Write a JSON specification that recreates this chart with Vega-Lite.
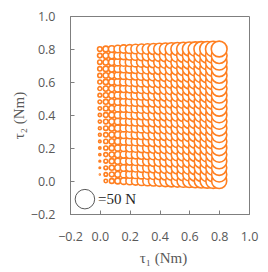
{
"$schema":"https://vega.github.io/schema/vega-lite/v6.json",
"width":179,"height":198,"autosize":"none",
"padding":{"left":70,"top":16,"right":19,"bottom":58},
"background":"white",
"config":{"view":{"stroke":"#7f7f7f","strokeWidth":1}},
"datasets":{"grid":[
{"t1":0,"t2":0,"f":0},{"t1":0,"t2":0.04,"f":0.1},{"t1":0,"t2":0.08,"f":0.3},{"t1":0,"t2":0.12,"f":0.4},{"t1":0,"t2":0.16,"f":0.6},{"t1":0,"t2":0.2,"f":0.7},{"t1":0,"t2":0.24,"f":0.8},{"t1":0,"t2":0.28,"f":1},{"t1":0,"t2":0.32,"f":1.1},{"t1":0,"t2":0.36,"f":1.3},{"t1":0,"t2":0.4,"f":1.4},{"t1":0,"t2":0.44,"f":1.5},{"t1":0,"t2":0.48,"f":1.7},{"t1":0,"t2":0.52,"f":1.8},{"t1":0,"t2":0.56,"f":2},{"t1":0,"t2":0.6,"f":2.1},{"t1":0,"t2":0.64,"f":2.2},{"t1":0,"t2":0.68,"f":2.4},{"t1":0,"t2":0.72,"f":2.5},{"t1":0,"t2":0.76,"f":2.7},{"t1":0,"t2":0.8,"f":2.8},
{"t1":0.04,"t2":0,"f":1.5},{"t1":0.04,"t2":0.04,"f":1.6},{"t1":0.04,"t2":0.08,"f":1.8},{"t1":0.04,"t2":0.12,"f":1.9},{"t1":0.04,"t2":0.16,"f":2.1},{"t1":0.04,"t2":0.2,"f":2.2},{"t1":0.04,"t2":0.24,"f":2.3},{"t1":0.04,"t2":0.28,"f":2.5},{"t1":0.04,"t2":0.32,"f":2.6},{"t1":0.04,"t2":0.36,"f":2.8},{"t1":0.04,"t2":0.4,"f":2.9},{"t1":0.04,"t2":0.44,"f":3},{"t1":0.04,"t2":0.48,"f":3.2},{"t1":0.04,"t2":0.52,"f":3.3},{"t1":0.04,"t2":0.56,"f":3.5},{"t1":0.04,"t2":0.6,"f":3.6},{"t1":0.04,"t2":0.64,"f":3.7},{"t1":0.04,"t2":0.68,"f":3.9},{"t1":0.04,"t2":0.72,"f":4},{"t1":0.04,"t2":0.76,"f":4.2},{"t1":0.04,"t2":0.8,"f":4.3},
{"t1":0.08,"t2":0,"f":3},{"t1":0.08,"t2":0.04,"f":3.1},{"t1":0.08,"t2":0.08,"f":3.3},{"t1":0.08,"t2":0.12,"f":3.4},{"t1":0.08,"t2":0.16,"f":3.6},{"t1":0.08,"t2":0.2,"f":3.7},{"t1":0.08,"t2":0.24,"f":3.8},{"t1":0.08,"t2":0.28,"f":4},{"t1":0.08,"t2":0.32,"f":4.1},{"t1":0.08,"t2":0.36,"f":4.3},{"t1":0.08,"t2":0.4,"f":4.4},{"t1":0.08,"t2":0.44,"f":4.5},{"t1":0.08,"t2":0.48,"f":4.7},{"t1":0.08,"t2":0.52,"f":4.8},{"t1":0.08,"t2":0.56,"f":5},{"t1":0.08,"t2":0.6,"f":5.1},{"t1":0.08,"t2":0.64,"f":5.2},{"t1":0.08,"t2":0.68,"f":5.4},{"t1":0.08,"t2":0.72,"f":5.5},{"t1":0.08,"t2":0.76,"f":5.7},{"t1":0.08,"t2":0.8,"f":5.8},
{"t1":0.12,"t2":0,"f":4.5},{"t1":0.12,"t2":0.04,"f":4.6},{"t1":0.12,"t2":0.08,"f":4.8},{"t1":0.12,"t2":0.12,"f":4.9},{"t1":0.12,"t2":0.16,"f":5.1},{"t1":0.12,"t2":0.2,"f":5.2},{"t1":0.12,"t2":0.24,"f":5.3},{"t1":0.12,"t2":0.28,"f":5.5},{"t1":0.12,"t2":0.32,"f":5.6},{"t1":0.12,"t2":0.36,"f":5.8},{"t1":0.12,"t2":0.4,"f":5.9},{"t1":0.12,"t2":0.44,"f":6},{"t1":0.12,"t2":0.48,"f":6.2},{"t1":0.12,"t2":0.52,"f":6.3},{"t1":0.12,"t2":0.56,"f":6.5},{"t1":0.12,"t2":0.6,"f":6.6},{"t1":0.12,"t2":0.64,"f":6.7},{"t1":0.12,"t2":0.68,"f":6.9},{"t1":0.12,"t2":0.72,"f":7},{"t1":0.12,"t2":0.76,"f":7.2},{"t1":0.12,"t2":0.8,"f":7.3},
{"t1":0.16,"t2":0,"f":6},{"t1":0.16,"t2":0.04,"f":6.1},{"t1":0.16,"t2":0.08,"f":6.3},{"t1":0.16,"t2":0.12,"f":6.4},{"t1":0.16,"t2":0.16,"f":6.6},{"t1":0.16,"t2":0.2,"f":6.7},{"t1":0.16,"t2":0.24,"f":6.8},{"t1":0.16,"t2":0.28,"f":7},{"t1":0.16,"t2":0.32,"f":7.1},{"t1":0.16,"t2":0.36,"f":7.3},{"t1":0.16,"t2":0.4,"f":7.4},{"t1":0.16,"t2":0.44,"f":7.5},{"t1":0.16,"t2":0.48,"f":7.7},{"t1":0.16,"t2":0.52,"f":7.8},{"t1":0.16,"t2":0.56,"f":8},{"t1":0.16,"t2":0.6,"f":8.1},{"t1":0.16,"t2":0.64,"f":8.2},{"t1":0.16,"t2":0.68,"f":8.4},{"t1":0.16,"t2":0.72,"f":8.5},{"t1":0.16,"t2":0.76,"f":8.7},{"t1":0.16,"t2":0.8,"f":8.8},
{"t1":0.2,"t2":0,"f":7.5},{"t1":0.2,"t2":0.04,"f":7.6},{"t1":0.2,"t2":0.08,"f":7.8},{"t1":0.2,"t2":0.12,"f":7.9},{"t1":0.2,"t2":0.16,"f":8.1},{"t1":0.2,"t2":0.2,"f":8.2},{"t1":0.2,"t2":0.24,"f":8.3},{"t1":0.2,"t2":0.28,"f":8.5},{"t1":0.2,"t2":0.32,"f":8.6},{"t1":0.2,"t2":0.36,"f":8.8},{"t1":0.2,"t2":0.4,"f":8.9},{"t1":0.2,"t2":0.44,"f":9},{"t1":0.2,"t2":0.48,"f":9.2},{"t1":0.2,"t2":0.52,"f":9.3},{"t1":0.2,"t2":0.56,"f":9.5},{"t1":0.2,"t2":0.6,"f":9.6},{"t1":0.2,"t2":0.64,"f":9.7},{"t1":0.2,"t2":0.68,"f":9.9},{"t1":0.2,"t2":0.72,"f":10},{"t1":0.2,"t2":0.76,"f":10.2},{"t1":0.2,"t2":0.8,"f":10.3},
{"t1":0.24,"t2":0,"f":9},{"t1":0.24,"t2":0.04,"f":9.1},{"t1":0.24,"t2":0.08,"f":9.3},{"t1":0.24,"t2":0.12,"f":9.4},{"t1":0.24,"t2":0.16,"f":9.6},{"t1":0.24,"t2":0.2,"f":9.7},{"t1":0.24,"t2":0.24,"f":9.8},{"t1":0.24,"t2":0.28,"f":10},{"t1":0.24,"t2":0.32,"f":10.1},{"t1":0.24,"t2":0.36,"f":10.3},{"t1":0.24,"t2":0.4,"f":10.4},{"t1":0.24,"t2":0.44,"f":10.5},{"t1":0.24,"t2":0.48,"f":10.7},{"t1":0.24,"t2":0.52,"f":10.8},{"t1":0.24,"t2":0.56,"f":11},{"t1":0.24,"t2":0.6,"f":11.1},{"t1":0.24,"t2":0.64,"f":11.2},{"t1":0.24,"t2":0.68,"f":11.4},{"t1":0.24,"t2":0.72,"f":11.5},{"t1":0.24,"t2":0.76,"f":11.7},{"t1":0.24,"t2":0.8,"f":11.8},
{"t1":0.28,"t2":0,"f":10.5},{"t1":0.28,"t2":0.04,"f":10.6},{"t1":0.28,"t2":0.08,"f":10.8},{"t1":0.28,"t2":0.12,"f":10.9},{"t1":0.28,"t2":0.16,"f":11.1},{"t1":0.28,"t2":0.2,"f":11.2},{"t1":0.28,"t2":0.24,"f":11.3},{"t1":0.28,"t2":0.28,"f":11.5},{"t1":0.28,"t2":0.32,"f":11.6},{"t1":0.28,"t2":0.36,"f":11.8},{"t1":0.28,"t2":0.4,"f":11.9},{"t1":0.28,"t2":0.44,"f":12},{"t1":0.28,"t2":0.48,"f":12.2},{"t1":0.28,"t2":0.52,"f":12.3},{"t1":0.28,"t2":0.56,"f":12.5},{"t1":0.28,"t2":0.6,"f":12.6},{"t1":0.28,"t2":0.64,"f":12.7},{"t1":0.28,"t2":0.68,"f":12.9},{"t1":0.28,"t2":0.72,"f":13},{"t1":0.28,"t2":0.76,"f":13.2},{"t1":0.28,"t2":0.8,"f":13.3},
{"t1":0.32,"t2":0,"f":12},{"t1":0.32,"t2":0.04,"f":12.1},{"t1":0.32,"t2":0.08,"f":12.3},{"t1":0.32,"t2":0.12,"f":12.4},{"t1":0.32,"t2":0.16,"f":12.6},{"t1":0.32,"t2":0.2,"f":12.7},{"t1":0.32,"t2":0.24,"f":12.8},{"t1":0.32,"t2":0.28,"f":13},{"t1":0.32,"t2":0.32,"f":13.1},{"t1":0.32,"t2":0.36,"f":13.3},{"t1":0.32,"t2":0.4,"f":13.4},{"t1":0.32,"t2":0.44,"f":13.5},{"t1":0.32,"t2":0.48,"f":13.7},{"t1":0.32,"t2":0.52,"f":13.8},{"t1":0.32,"t2":0.56,"f":14},{"t1":0.32,"t2":0.6,"f":14.1},{"t1":0.32,"t2":0.64,"f":14.2},{"t1":0.32,"t2":0.68,"f":14.4},{"t1":0.32,"t2":0.72,"f":14.5},{"t1":0.32,"t2":0.76,"f":14.7},{"t1":0.32,"t2":0.8,"f":14.8},
{"t1":0.36,"t2":0,"f":13.5},{"t1":0.36,"t2":0.04,"f":13.6},{"t1":0.36,"t2":0.08,"f":13.8},{"t1":0.36,"t2":0.12,"f":13.9},{"t1":0.36,"t2":0.16,"f":14.1},{"t1":0.36,"t2":0.2,"f":14.2},{"t1":0.36,"t2":0.24,"f":14.3},{"t1":0.36,"t2":0.28,"f":14.5},{"t1":0.36,"t2":0.32,"f":14.6},{"t1":0.36,"t2":0.36,"f":14.8},{"t1":0.36,"t2":0.4,"f":14.9},{"t1":0.36,"t2":0.44,"f":15},{"t1":0.36,"t2":0.48,"f":15.2},{"t1":0.36,"t2":0.52,"f":15.3},{"t1":0.36,"t2":0.56,"f":15.5},{"t1":0.36,"t2":0.6,"f":15.6},{"t1":0.36,"t2":0.64,"f":15.7},{"t1":0.36,"t2":0.68,"f":15.9},{"t1":0.36,"t2":0.72,"f":16},{"t1":0.36,"t2":0.76,"f":16.2},{"t1":0.36,"t2":0.8,"f":16.3},
{"t1":0.4,"t2":0,"f":15},{"t1":0.4,"t2":0.04,"f":15.1},{"t1":0.4,"t2":0.08,"f":15.3},{"t1":0.4,"t2":0.12,"f":15.4},{"t1":0.4,"t2":0.16,"f":15.6},{"t1":0.4,"t2":0.2,"f":15.7},{"t1":0.4,"t2":0.24,"f":15.8},{"t1":0.4,"t2":0.28,"f":16},{"t1":0.4,"t2":0.32,"f":16.1},{"t1":0.4,"t2":0.36,"f":16.3},{"t1":0.4,"t2":0.4,"f":16.4},{"t1":0.4,"t2":0.44,"f":16.5},{"t1":0.4,"t2":0.48,"f":16.7},{"t1":0.4,"t2":0.52,"f":16.8},{"t1":0.4,"t2":0.56,"f":17},{"t1":0.4,"t2":0.6,"f":17.1},{"t1":0.4,"t2":0.64,"f":17.2},{"t1":0.4,"t2":0.68,"f":17.4},{"t1":0.4,"t2":0.72,"f":17.5},{"t1":0.4,"t2":0.76,"f":17.7},{"t1":0.4,"t2":0.8,"f":17.8},
{"t1":0.44,"t2":0,"f":16.5},{"t1":0.44,"t2":0.04,"f":16.6},{"t1":0.44,"t2":0.08,"f":16.8},{"t1":0.44,"t2":0.12,"f":16.9},{"t1":0.44,"t2":0.16,"f":17.1},{"t1":0.44,"t2":0.2,"f":17.2},{"t1":0.44,"t2":0.24,"f":17.3},{"t1":0.44,"t2":0.28,"f":17.5},{"t1":0.44,"t2":0.32,"f":17.6},{"t1":0.44,"t2":0.36,"f":17.8},{"t1":0.44,"t2":0.4,"f":17.9},{"t1":0.44,"t2":0.44,"f":18},{"t1":0.44,"t2":0.48,"f":18.2},{"t1":0.44,"t2":0.52,"f":18.3},{"t1":0.44,"t2":0.56,"f":18.5},{"t1":0.44,"t2":0.6,"f":18.6},{"t1":0.44,"t2":0.64,"f":18.7},{"t1":0.44,"t2":0.68,"f":18.9},{"t1":0.44,"t2":0.72,"f":19},{"t1":0.44,"t2":0.76,"f":19.2},{"t1":0.44,"t2":0.8,"f":19.3},
{"t1":0.48,"t2":0,"f":18},{"t1":0.48,"t2":0.04,"f":18.1},{"t1":0.48,"t2":0.08,"f":18.3},{"t1":0.48,"t2":0.12,"f":18.4},{"t1":0.48,"t2":0.16,"f":18.6},{"t1":0.48,"t2":0.2,"f":18.7},{"t1":0.48,"t2":0.24,"f":18.8},{"t1":0.48,"t2":0.28,"f":19},{"t1":0.48,"t2":0.32,"f":19.1},{"t1":0.48,"t2":0.36,"f":19.3},{"t1":0.48,"t2":0.4,"f":19.4},{"t1":0.48,"t2":0.44,"f":19.5},{"t1":0.48,"t2":0.48,"f":19.7},{"t1":0.48,"t2":0.52,"f":19.8},{"t1":0.48,"t2":0.56,"f":20},{"t1":0.48,"t2":0.6,"f":20.1},{"t1":0.48,"t2":0.64,"f":20.2},{"t1":0.48,"t2":0.68,"f":20.4},{"t1":0.48,"t2":0.72,"f":20.5},{"t1":0.48,"t2":0.76,"f":20.7},{"t1":0.48,"t2":0.8,"f":20.8},
{"t1":0.52,"t2":0,"f":19.5},{"t1":0.52,"t2":0.04,"f":19.6},{"t1":0.52,"t2":0.08,"f":19.8},{"t1":0.52,"t2":0.12,"f":19.9},{"t1":0.52,"t2":0.16,"f":20.1},{"t1":0.52,"t2":0.2,"f":20.2},{"t1":0.52,"t2":0.24,"f":20.3},{"t1":0.52,"t2":0.28,"f":20.5},{"t1":0.52,"t2":0.32,"f":20.6},{"t1":0.52,"t2":0.36,"f":20.8},{"t1":0.52,"t2":0.4,"f":20.9},{"t1":0.52,"t2":0.44,"f":21},{"t1":0.52,"t2":0.48,"f":21.2},{"t1":0.52,"t2":0.52,"f":21.3},{"t1":0.52,"t2":0.56,"f":21.5},{"t1":0.52,"t2":0.6,"f":21.6},{"t1":0.52,"t2":0.64,"f":21.7},{"t1":0.52,"t2":0.68,"f":21.9},{"t1":0.52,"t2":0.72,"f":22},{"t1":0.52,"t2":0.76,"f":22.2},{"t1":0.52,"t2":0.8,"f":22.3},
{"t1":0.56,"t2":0,"f":21},{"t1":0.56,"t2":0.04,"f":21.1},{"t1":0.56,"t2":0.08,"f":21.3},{"t1":0.56,"t2":0.12,"f":21.4},{"t1":0.56,"t2":0.16,"f":21.6},{"t1":0.56,"t2":0.2,"f":21.7},{"t1":0.56,"t2":0.24,"f":21.8},{"t1":0.56,"t2":0.28,"f":22},{"t1":0.56,"t2":0.32,"f":22.1},{"t1":0.56,"t2":0.36,"f":22.3},{"t1":0.56,"t2":0.4,"f":22.4},{"t1":0.56,"t2":0.44,"f":22.5},{"t1":0.56,"t2":0.48,"f":22.7},{"t1":0.56,"t2":0.52,"f":22.8},{"t1":0.56,"t2":0.56,"f":23},{"t1":0.56,"t2":0.6,"f":23.1},{"t1":0.56,"t2":0.64,"f":23.2},{"t1":0.56,"t2":0.68,"f":23.4},{"t1":0.56,"t2":0.72,"f":23.5},{"t1":0.56,"t2":0.76,"f":23.7},{"t1":0.56,"t2":0.8,"f":23.8},
{"t1":0.6,"t2":0,"f":22.5},{"t1":0.6,"t2":0.04,"f":22.6},{"t1":0.6,"t2":0.08,"f":22.8},{"t1":0.6,"t2":0.12,"f":22.9},{"t1":0.6,"t2":0.16,"f":23.1},{"t1":0.6,"t2":0.2,"f":23.2},{"t1":0.6,"t2":0.24,"f":23.3},{"t1":0.6,"t2":0.28,"f":23.5},{"t1":0.6,"t2":0.32,"f":23.6},{"t1":0.6,"t2":0.36,"f":23.8},{"t1":0.6,"t2":0.4,"f":23.9},{"t1":0.6,"t2":0.44,"f":24},{"t1":0.6,"t2":0.48,"f":24.2},{"t1":0.6,"t2":0.52,"f":24.3},{"t1":0.6,"t2":0.56,"f":24.5},{"t1":0.6,"t2":0.6,"f":24.6},{"t1":0.6,"t2":0.64,"f":24.7},{"t1":0.6,"t2":0.68,"f":24.9},{"t1":0.6,"t2":0.72,"f":25},{"t1":0.6,"t2":0.76,"f":25.2},{"t1":0.6,"t2":0.8,"f":25.3},
{"t1":0.64,"t2":0,"f":24},{"t1":0.64,"t2":0.04,"f":24.1},{"t1":0.64,"t2":0.08,"f":24.3},{"t1":0.64,"t2":0.12,"f":24.4},{"t1":0.64,"t2":0.16,"f":24.6},{"t1":0.64,"t2":0.2,"f":24.7},{"t1":0.64,"t2":0.24,"f":24.8},{"t1":0.64,"t2":0.28,"f":25},{"t1":0.64,"t2":0.32,"f":25.1},{"t1":0.64,"t2":0.36,"f":25.3},{"t1":0.64,"t2":0.4,"f":25.4},{"t1":0.64,"t2":0.44,"f":25.5},{"t1":0.64,"t2":0.48,"f":25.7},{"t1":0.64,"t2":0.52,"f":25.8},{"t1":0.64,"t2":0.56,"f":26},{"t1":0.64,"t2":0.6,"f":26.1},{"t1":0.64,"t2":0.64,"f":26.2},{"t1":0.64,"t2":0.68,"f":26.4},{"t1":0.64,"t2":0.72,"f":26.5},{"t1":0.64,"t2":0.76,"f":26.7},{"t1":0.64,"t2":0.8,"f":26.8},
{"t1":0.68,"t2":0,"f":25.5},{"t1":0.68,"t2":0.04,"f":25.6},{"t1":0.68,"t2":0.08,"f":25.8},{"t1":0.68,"t2":0.12,"f":25.9},{"t1":0.68,"t2":0.16,"f":26.1},{"t1":0.68,"t2":0.2,"f":26.2},{"t1":0.68,"t2":0.24,"f":26.3},{"t1":0.68,"t2":0.28,"f":26.5},{"t1":0.68,"t2":0.32,"f":26.6},{"t1":0.68,"t2":0.36,"f":26.8},{"t1":0.68,"t2":0.4,"f":26.9},{"t1":0.68,"t2":0.44,"f":27},{"t1":0.68,"t2":0.48,"f":27.2},{"t1":0.68,"t2":0.52,"f":27.3},{"t1":0.68,"t2":0.56,"f":27.5},{"t1":0.68,"t2":0.6,"f":27.6},{"t1":0.68,"t2":0.64,"f":27.7},{"t1":0.68,"t2":0.68,"f":27.9},{"t1":0.68,"t2":0.72,"f":28},{"t1":0.68,"t2":0.76,"f":28.2},{"t1":0.68,"t2":0.8,"f":28.3},
{"t1":0.72,"t2":0,"f":27},{"t1":0.72,"t2":0.04,"f":27.1},{"t1":0.72,"t2":0.08,"f":27.3},{"t1":0.72,"t2":0.12,"f":27.4},{"t1":0.72,"t2":0.16,"f":27.6},{"t1":0.72,"t2":0.2,"f":27.7},{"t1":0.72,"t2":0.24,"f":27.8},{"t1":0.72,"t2":0.28,"f":28},{"t1":0.72,"t2":0.32,"f":28.1},{"t1":0.72,"t2":0.36,"f":28.3},{"t1":0.72,"t2":0.4,"f":28.4},{"t1":0.72,"t2":0.44,"f":28.5},{"t1":0.72,"t2":0.48,"f":28.7},{"t1":0.72,"t2":0.52,"f":28.8},{"t1":0.72,"t2":0.56,"f":29},{"t1":0.72,"t2":0.6,"f":29.1},{"t1":0.72,"t2":0.64,"f":29.2},{"t1":0.72,"t2":0.68,"f":29.4},{"t1":0.72,"t2":0.72,"f":29.5},{"t1":0.72,"t2":0.76,"f":29.7},{"t1":0.72,"t2":0.8,"f":29.8},
{"t1":0.76,"t2":0,"f":28.5},{"t1":0.76,"t2":0.04,"f":28.6},{"t1":0.76,"t2":0.08,"f":28.8},{"t1":0.76,"t2":0.12,"f":28.9},{"t1":0.76,"t2":0.16,"f":29.1},{"t1":0.76,"t2":0.2,"f":29.2},{"t1":0.76,"t2":0.24,"f":29.3},{"t1":0.76,"t2":0.28,"f":29.5},{"t1":0.76,"t2":0.32,"f":29.6},{"t1":0.76,"t2":0.36,"f":29.8},{"t1":0.76,"t2":0.4,"f":29.9},{"t1":0.76,"t2":0.44,"f":30},{"t1":0.76,"t2":0.48,"f":30.2},{"t1":0.76,"t2":0.52,"f":30.3},{"t1":0.76,"t2":0.56,"f":30.5},{"t1":0.76,"t2":0.6,"f":30.6},{"t1":0.76,"t2":0.64,"f":30.7},{"t1":0.76,"t2":0.68,"f":30.9},{"t1":0.76,"t2":0.72,"f":31},{"t1":0.76,"t2":0.76,"f":31.2},{"t1":0.76,"t2":0.8,"f":31.3},
{"t1":0.8,"t2":0,"f":30},{"t1":0.8,"t2":0.04,"f":30.1},{"t1":0.8,"t2":0.08,"f":30.3},{"t1":0.8,"t2":0.12,"f":30.4},{"t1":0.8,"t2":0.16,"f":30.6},{"t1":0.8,"t2":0.2,"f":30.7},{"t1":0.8,"t2":0.24,"f":30.8},{"t1":0.8,"t2":0.28,"f":31},{"t1":0.8,"t2":0.32,"f":31.1},{"t1":0.8,"t2":0.36,"f":31.3},{"t1":0.8,"t2":0.4,"f":31.4},{"t1":0.8,"t2":0.44,"f":31.5},{"t1":0.8,"t2":0.48,"f":31.7},{"t1":0.8,"t2":0.52,"f":31.8},{"t1":0.8,"t2":0.56,"f":32},{"t1":0.8,"t2":0.6,"f":32.1},{"t1":0.8,"t2":0.64,"f":32.2},{"t1":0.8,"t2":0.68,"f":32.4},{"t1":0.8,"t2":0.72,"f":32.5},{"t1":0.8,"t2":0.76,"f":32.7},{"t1":0.8,"t2":0.8,"f":32.8}
],
"key":[{"t1":-0.1,"t2":-0.11,"f":50,"label":"=50 N"}]},
"encoding":{
 "x":{"field":"t1","type":"quantitative","scale":{"domain":[-0.2,1.0],"nice":false,"zero":false},
  "axis":{"values":[-0.2,0,0.2,0.4,0.6,0.8,1.0],"format":".1f","grid":false,"labelOverlap":false,"labelFlush":false,"labelBound":false,"domainColor":"#7f7f7f","tickColor":"#7f7f7f","tickSize":-4,"labelPadding":20,"labelFont":"Open Sans","labelFontSize":12.5,"labelColor":"#595959","title":"τ₁ (Nm)","titleFont":"Liberation Serif","titleFontSize":15,"titleFontWeight":"normal","titleColor":"#595959","titleX":93,"titleY":43,"titleBaseline":"middle","titleAlign":"center"}},
 "y":{"field":"t2","type":"quantitative","scale":{"domain":[-0.2,1.0],"nice":false,"zero":false},
  "axis":{"values":[-0.2,0,0.2,0.4,0.6,0.8,1.0],"format":".1f","grid":false,"labelOverlap":false,"labelFlush":false,"labelBound":false,"domainColor":"#7f7f7f","tickColor":"#7f7f7f","tickSize":-4,"labelPadding":19,"labelFont":"Open Sans","labelFontSize":12.5,"labelColor":"#595959","title":"τ₂ (Nm)","titleFont":"Liberation Serif","titleFontSize":15,"titleFontWeight":"normal","titleColor":"#595959","titleX":-52,"titleY":99,"titleBaseline":"middle","titleAlign":"center","titleAngle":-90}}
},
"layer":[
 {"data":{"name":"grid"},
  "mark":{"type":"circle","fill":"white","stroke":"#ff7f20","strokeWidth":1.6,"opacity":1},
  "encoding":{"size":{"field":"f","type":"quantitative","scale":{"domain":[0,50],"range":[0,380],"zero":true},"legend":null},
   "order":[{"field":"t1","type":"quantitative"},{"field":"t2","type":"quantitative"}]}},
 {"data":{"name":"key"},
  "mark":{"type":"circle","fill":"white","stroke":"#595959","strokeWidth":1,"opacity":1},
  "encoding":{"size":{"field":"f","type":"quantitative","legend":null}}},
 {"data":{"name":"key"},
  "mark":{"type":"text","align":"left","baseline":"middle","dx":13,"font":"Liberation Serif","fontSize":15,"color":"#262626"},
  "encoding":{"text":{"field":"label"}}}
]
}
